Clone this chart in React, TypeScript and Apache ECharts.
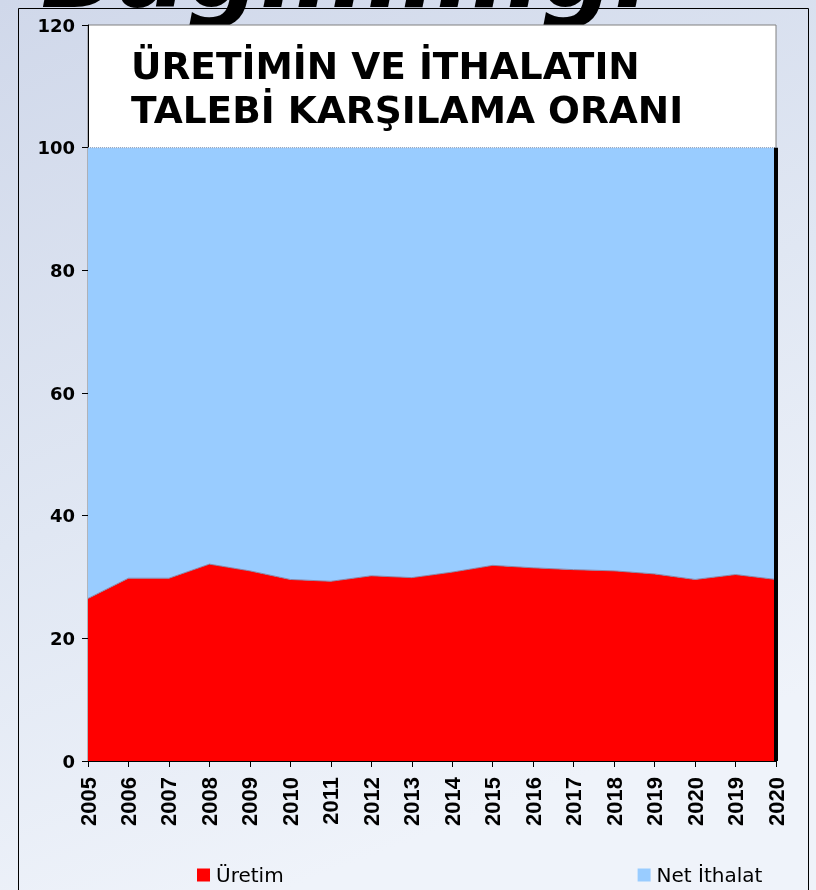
import React, { useEffect, useRef } from "react";
import * as echarts from "echarts";

const categories = [
  "2005", "2006", "2007", "2008", "2009", "2010", "2011", "2012", "2013",
  "2014", "2015", "2016", "2017", "2018", "2019", "2020", "2019", "2020",
];
const uretim = [
  26.5, 29.8, 29.8, 32.1, 31.0, 29.6, 29.3, 30.2, 29.9,
  30.8, 31.9, 31.5, 31.2, 31.0, 30.5, 29.6, 30.4, 29.6,
];
const netIthalat = [
  73.5, 70.2, 70.2, 67.9, 69.0, 70.4, 70.7, 69.8, 70.1,
  69.2, 68.1, 68.5, 68.8, 69.0, 69.5, 70.4, 69.6, 70.4,
];
const seriesNames = ["Üretim", "Net İthalat"];
const chartTitleLines = ["ÜRETİMİN VE İTHALATIN", "TALEBİ KARŞILAMA ORANI"];
const slideTitle = "Dışa Bağımlılığı";
const yMin = 0;
const yMax = 120;
const yInterval = 20;

export default function App() {
  const ref = useRef<HTMLDivElement>(null);

  useEffect(() => {
    if (!ref.current) return;
    const chart = echarts.init(ref.current, null, { renderer: "svg" });
    const lastIndex = categories.length - 1;
    chart.setOption({
      animation: false,
      graphic: [
        {
          type: "rect",
          z: -20,
          silent: true,
          shape: { x: 0, y: 0, width: 816, height: 890 },
          style: {
            fill: new echarts.graphic.LinearGradient(0, 0, 0.35, 1, [
              { offset: 0, color: "#d0d8ea" },
              { offset: 0.55, color: "#e0e7f3" },
              { offset: 1, color: "#eff3fa" },
            ]),
          },
        },
        {
          type: "rect",
          z: -15,
          silent: true,
          shape: { x: 18.5, y: 8.5, width: 790, height: 900 },
          style: { fill: "none", stroke: "#000", lineWidth: 1 },
        },
        {
          type: "text",
          z: -10,
          silent: true,
          x: -244,
          y: -29,
          style: {
            text: slideTitle,
            font: 'italic bold 102px "DejaVu Sans"',
            fill: "#000",
            verticalAlign: "middle",
          },
        },
        {
          type: "text",
          z: 10,
          silent: true,
          x: 131,
          y: 66,
          style: {
            text: chartTitleLines[0],
            font: 'bold 37.5px "DejaVu Sans"',
            fill: "#000",
            verticalAlign: "middle",
          },
        },
        {
          type: "text",
          z: 10,
          silent: true,
          x: 131,
          y: 110,
          style: {
            text: chartTitleLines[1],
            font: 'bold 37.5px "DejaVu Sans"',
            fill: "#000",
            verticalAlign: "middle",
          },
        },
      ],
      grid: {
        left: 88,
        right: 40,
        top: 25,
        bottom: 129,
        show: true,
        backgroundColor: "#ffffff",
        borderColor: "#808080",
        borderWidth: 1,
      },
      legend: {
        left: 197,
        top: 865,
        padding: 0,
        itemWidth: 13,
        itemHeight: 13,
        itemGap: 354,
        icon: "rect",
        data: seriesNames,
        textStyle: { fontFamily: "DejaVu Sans", fontSize: 20, color: "#000", padding: [0, 0, 0, 1] },
      },
      xAxis: {
        type: "category",
        data: categories,
        boundaryGap: false,
        axisLine: { show: true, lineStyle: { color: "#000", width: 1 } },
        axisTick: { show: true, length: 6, lineStyle: { color: "#000" } },
        axisLabel: {
          rotate: 90,
          interval: 0,
          margin: 16,
          color: "#000",
          fontFamily: "Liberation Sans",
          fontWeight: "bold",
          fontSize: 22,
        },
        splitLine: { show: false },
      },
      yAxis: {
        type: "value",
        min: yMin,
        max: yMax,
        interval: yInterval,
        axisLine: { show: true, lineStyle: { color: "#000", width: 1 } },
        axisTick: { show: true, length: 6, lineStyle: { color: "#000" } },
        axisLabel: {
          margin: 13,
          color: "#000",
          fontFamily: "DejaVu Sans",
          fontWeight: "bold",
          fontSize: 18,
        },
        splitLine: { show: false },
      },
      series: [
        {
          name: seriesNames[0],
          type: "line",
          stack: "total",
          data: uretim,
          symbol: "none",
          itemStyle: { color: "#ff0000" },
          lineStyle: { color: "#8a86a6", width: 1 },
          areaStyle: { color: "#ff0000", opacity: 1 },
        },
        {
          name: seriesNames[1],
          type: "line",
          stack: "total",
          data: netIthalat,
          symbol: "none",
          clip: false,
          itemStyle: { color: "#99ccff" },
          lineStyle: { color: "#8e9bb3", width: 1, type: "dotted" },
          areaStyle: { color: "#99ccff", opacity: 1 },
          markLine: {
            silent: true,
            symbol: "none",
            label: { show: false },
            lineStyle: { color: "#000", width: 4, type: "solid" },
            data: [[{ coord: [lastIndex, 0] }, { coord: [lastIndex, 100] }]],
          },
        },
      ],
    });
    return () => chart.dispose();
  }, []);

  return (
    <div
      ref={ref}
      style={{ position: "fixed", left: 0, top: 0, width: 816, height: 890 }}
    />
  );
}
